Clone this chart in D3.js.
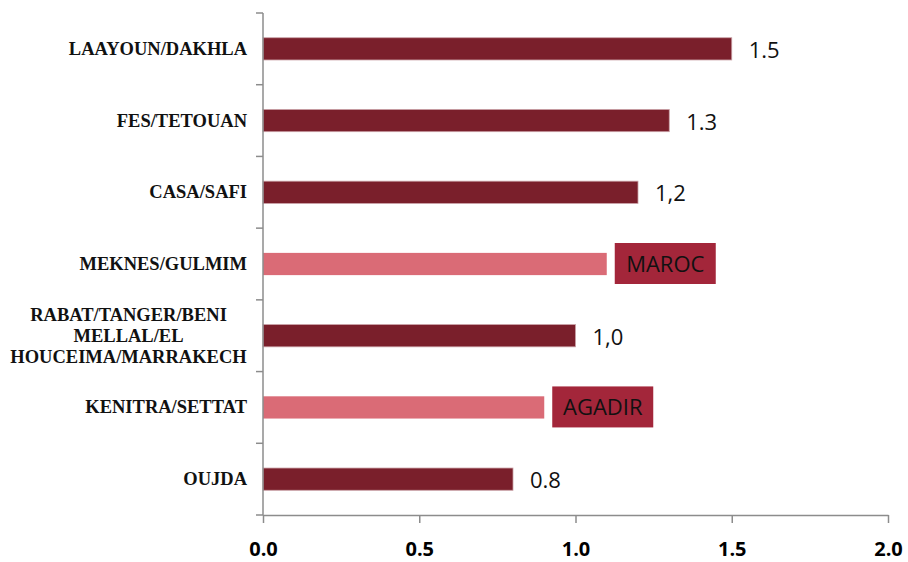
<!DOCTYPE html>
<html><head><meta charset="utf-8">
<script src="https://cdn.jsdelivr.net/npm/d3@7"></script>
<style>body{margin:0;background:#fff}svg{display:block}</style>
</head><body>
<svg id="c" width="908" height="562"></svg>
<script>
const categories = [
  ["LAAYOUN/DAKHLA"],
  ["FES/TETOUAN"],
  ["CASA/SAFI"],
  ["MEKNES/GULMIM"],
  ["RABAT/TANGER/BENI","MELLAL/EL","HOUCEIMA/MARRAKECH"],
  ["KENITRA/SETTAT"],
  ["OUJDA"]
];
const values = [1.5, 1.3, 1.2, 1.1, 1.0, 0.9, 0.8];
const labels = ["1.5", "1.3", "1,2", "MAROC", "1,0", "AGADIR", "0.8"];
const highlighted = [false, false, false, true, false, true, false];
const xTicks = [0, 0.5, 1.0, 1.5, 2.0];

const svg = d3.select("#c");
const m = {left: 263, right: 888, top: 13, bottom: 515};
const x = d3.scaleLinear().domain([0, 2]).range([m.left, m.right]);
const y = d3.scaleBand().domain(d3.range(categories.length)).range([m.top, m.bottom]).paddingInner(0.69).paddingOuter(0.345);
const band = d3.scaleBand().domain(d3.range(categories.length)).range([m.top, m.bottom]);

const darkCol = "#7a1f2b", lightCol = "#da6b76", boxCol = "#a3263a", axisCol = "#8c8c8c";

// bars
svg.append("g").selectAll("rect").data(values).join("rect")
  .attr("x", x(0)).attr("y", (d,i)=>y(i)).attr("height", y.bandwidth())
  .attr("width", d=>x(d)-x(0))
  .attr("fill", (d,i)=>highlighted[i]?lightCol:darkCol)
  .attr("stroke", (d,i)=>highlighted[i]?"none":"#c9a0a6").attr("stroke-width", 0.8);

// y axis
const ya = svg.append("g");
ya.append("line").attr("x1", m.left).attr("x2", m.left).attr("y1", m.top).attr("y2", m.bottom).attr("stroke", axisCol).attr("stroke-width", 1.5);
const bounds = d3.range(categories.length + 1).map(i => m.top + i*band.bandwidth());
ya.selectAll("line.t").data(bounds).join("line").attr("class","t")
  .attr("x1", m.left-7).attr("x2", m.left).attr("y1", d=>d).attr("y2", d=>d)
  .attr("stroke", axisCol).attr("stroke-width", 1.5);

// x axis
const xa = svg.append("g").attr("transform", `translate(0,${m.bottom})`)
  .call(d3.axisBottom(x).tickValues(xTicks).tickFormat(d3.format(".1f")).tickSize(8).tickSizeOuter(0));
xa.select(".domain").attr("stroke", axisCol).attr("stroke-width", 1.5);
xa.selectAll(".tick line").attr("stroke", axisCol).attr("stroke-width", 1.5);
xa.selectAll(".tick text").attr("font-family", "'Open Sans', sans-serif").attr("font-weight", "bold")
  .attr("font-size", 20).attr("fill", "#000").attr("y", 41).attr("dy", null);

// category labels
const cat = svg.append("g").attr("font-family", "'Liberation Serif', serif").attr("font-weight", "bold").attr("font-size", 18.5).attr("fill", "#111");
categories.forEach((lines, i) => {
  const cy = y(i) + y.bandwidth()/2;
  const lh = 21;
  const t = cat.append("text").attr("text-anchor", lines.length>1?"middle":"end");
  const xPos = lines.length>1 ? 128.5 : 247;
  lines.forEach((ln, j) => {
    t.append("tspan").attr("x", xPos).attr("y", cy + (j - (lines.length-1)/2)*lh + 6).text(ln);
  });
});

// value labels
const lab = svg.append("g").attr("font-family", "'Open Sans', sans-serif").attr("font-size", 22).attr("fill", "#111");
values.forEach((v, i) => {
  const cy = y(i) + y.bandwidth()/2;
  if (highlighted[i]) {
    const bx = x(v) + 8;
    lab.append("rect").attr("x", bx).attr("y", cy-21).attr("width", 101).attr("height", 41).attr("fill", boxCol);
    lab.append("text").attr("x", bx + 50.5).attr("y", cy + 8).attr("text-anchor", "middle").text(labels[i]);
  } else {
    lab.append("text").attr("x", x(v) + 17).attr("y", cy + 9).text(labels[i]);
  }
});
</script>
</body></html>
